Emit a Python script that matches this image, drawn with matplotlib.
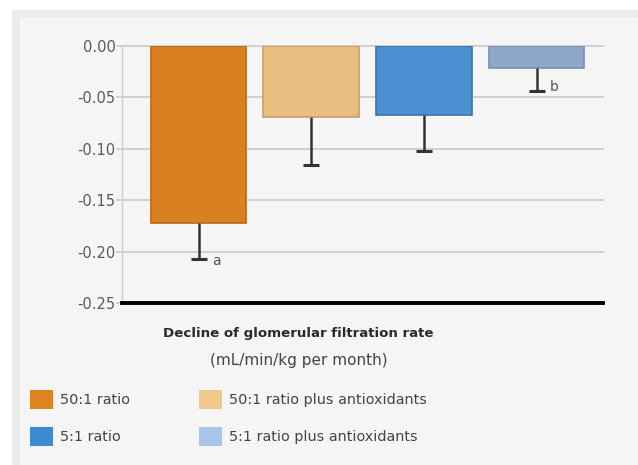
#---------Librerias---------#
import matplotlib
matplotlib.use("Agg")
import matplotlib.pyplot as plt
from matplotlib.patches import Rectangle, Patch
#---------Librerias---------#

plt.rcParams['font.family'] = ['DejaVu Sans']

#----------Datos------------#
grupos = ["50:1 ratio", "50:1 ratio plus antioxidants", "5:1 ratio", "5:1 ratio plus antioxidants"]
valores = [-0.172, -0.069, -0.067, -0.021]
errores = [0.035, 0.047, 0.035, 0.023]
letras = ["a", "", "", "b"]
colores_barra = ["#d98120", "#e9bd80", "#4b91d2", "#8ea8c9"]
bordes_barra = ["#b8691a", "#c79e68", "#3a74aa", "#7890b0"]
colores_leyenda = ["#dd8420", "#f0c88e", "#3e8ad0", "#a9c6ea"]
ticks_y = [0.0, -0.05, -0.10, -0.15, -0.20, -0.25]
#----------Datos------------#

fig = plt.figure(figsize=(6.38, 4.65), dpi=100)
fig.patch.set_facecolor("white")
W, H = 638.0, 465.0
fig.patches.append(Rectangle((12 / W, 0), 1 - 12 / W, 1 - 10 / H, transform=fig.transFigure,
                             facecolor="#ebebeb", edgecolor="none", zorder=-10))
fig.patches.append(Rectangle((20 / W, 0), 1 - 20 / W, 1 - 17 / H, transform=fig.transFigure,
                             facecolor="#f5f5f5", edgecolor="none", zorder=-9))

ax = fig.add_axes([122 / W, 1 - 303 / H, (603 - 122) / W, (303 - 46) / H])
ax.set_facecolor("none")

x = list(range(len(valores)))
ax.bar(x, valores, width=0.85, color=colores_barra, edgecolor=bordes_barra, linewidth=1.2, zorder=3)

# barras de error solo hacia abajo
fondo = [v - e for v, e in zip(valores, errores)]
ax.vlines(x, fondo, valores, color="#333333", linewidth=1.8, zorder=4)
ax.plot(x, fondo, linestyle="none", marker="_", markersize=11, markeredgewidth=2.2,
        color="#333333", zorder=4)

for i, letra in enumerate(letras):
    if letra:
        dy = -0.002 if letra == "a" else 0.004
        ax.text(i + 0.12, fondo[i] + dy, letra, fontsize=10, color="#555555",
                ha="left", va="center", zorder=5)

ax.set_xlim(-0.68, 3.59)
ax.set_ylim(-0.25, 0.0)
ax.set_yticks(ticks_y)
ax.set_yticklabels(["%.2f" % t for t in ticks_y], fontsize=10.5, color="#5a5a5a")
ax.set_xticks([])
ax.grid(axis="y", color="#cdcdcd", linewidth=1.3, zorder=0)
for gl in ax.get_ygridlines():
    gl.set_clip_on(False)
ax.tick_params(axis="y", length=4, color="#cdcdcd", width=1.3, pad=0.5)
ax.spines["top"].set_visible(False)
ax.spines["right"].set_visible(False)
ax.spines["left"].set_color("#cdcdcd")
ax.spines["left"].set_linewidth(1.0)
ax.spines["bottom"].set_color("black")
ax.spines["bottom"].set_linewidth(2.8)
ax.spines["bottom"].set_zorder(6)

fig.text(298 / W, 1 - 334 / H, "Decline of glomerular filtration rate", ha="center", va="center",
         fontsize=9.6, fontweight="bold", color="#2a2a2a")
fig.text(299 / W, 1 - 360 / H, "(mL/min/kg per month)", ha="center", va="center",
         fontsize=11, color="#444444")

#----------Leyenda----------#
orden = [0, 2, 1, 3]
handles = [Patch(facecolor=colores_leyenda[i], edgecolor="none", label=grupos[i]) for i in orden]
fig.legend(handles=handles, ncol=2, loc="upper left", bbox_to_anchor=(30 / W, 1 - 390 / H),
           frameon=False, fontsize=10.4, handlelength=1.6, handleheight=1.6, handletextpad=0.45,
           columnspacing=4.8, labelspacing=1.3, borderpad=0, borderaxespad=0, labelcolor="#444444")

plt.savefig("out.png", dpi=100)
plt.close()
